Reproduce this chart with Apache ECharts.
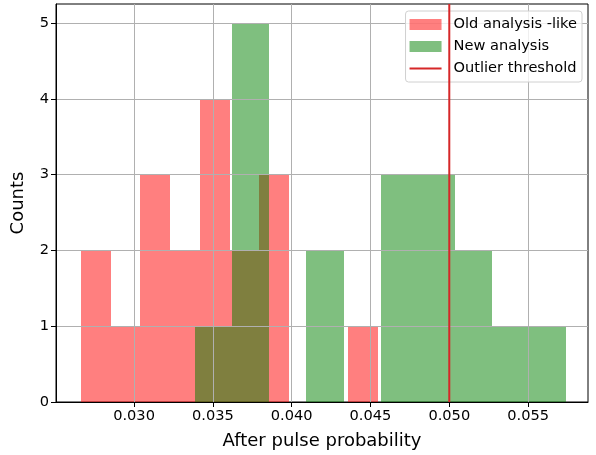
<!DOCTYPE html>
<html>
<head>
<meta charset="utf-8">
<script src="https://cdn.jsdelivr.net/npm/echarts@6/dist/echarts.min.js"></script>
<style>
  html, body { margin: 0; padding: 0; background: #fff; }
  #chart { width: 596px; height: 455px; }
</style>
</head>
<body>
<div id="chart"></div>
<script>
// bin edges and counts
const oldEdges = [0.02664, 0.02852, 0.03041, 0.03229, 0.03418, 0.03606,
                  0.03795, 0.03983, 0.04172, 0.04360, 0.04548];
const oldCounts = [2, 1, 3, 2, 4, 2, 3, 0, 0, 1];

const newEdges = [0.03387, 0.03623, 0.03858, 0.04093, 0.04329, 0.04564,
                  0.04800, 0.05035, 0.05270, 0.05506, 0.05741];
const newCounts = [1, 5, 0, 2, 0, 3, 3, 2, 1, 1];

const threshold = 0.05;
const xTicks = [0.030, 0.035, 0.040, 0.045, 0.050, 0.055];
const yTicks = [0, 1, 2, 3, 4, 5];
const xMin = 0.02505, xMax = 0.0588;
const yMax = 5.25;

const FONT = "DejaVu Sans";
const TICK_SIZE = 14.6;

function toBins(edges, counts) {
  return counts.map((c, i) => [edges[i], edges[i + 1], c]);
}

// one rectangle per bin, snapped to whole pixels so neighbours join cleanly
function histItem(params, api) {
  const lo = api.coord([api.value(0), 0]);
  const hi = api.coord([api.value(1), api.value(2)]);
  const x0 = Math.round(lo[0]), x1 = Math.round(hi[0]);
  const y0 = Math.round(lo[1]), y1 = Math.round(hi[1]);
  return {
    type: "rect",
    shape: { x: x0, y: y1, width: x1 - x0, height: y0 - y1 },
    style: { fill: api.visual("color") }
  };
}

const chart = echarts.init(document.getElementById("chart"));

chart.setOption({
  animation: false,
  textStyle: { fontFamily: FONT },
  grid: {
    left: 56, right: 8, top: 4, bottom: 53,
    show: true, borderColor: "#000", borderWidth: 1, backgroundColor: "transparent"
  },
  legend: {
    orient: "vertical",
    right: 14,
    top: 11,
    padding: [6, 5, 6, 4],
    itemGap: 7,
    itemWidth: 32,
    itemHeight: 11,
    symbolKeepAspect: true,
    backgroundColor: "rgba(255,255,255,0.8)",
    borderColor: "#d0d0d0",
    borderWidth: 1,
    borderRadius: 3,
    textStyle: { fontFamily: FONT, fontSize: TICK_SIZE, color: "#000", padding: [0, 0, 0, 7] },
    data: [
      { name: "Old analysis -like", icon: "rect" },
      { name: "New analysis", icon: "rect" },
      { name: "Outlier threshold", icon: "path://M0,0 L32,0 L32,2 L0,2 Z" }
    ]
  },
  xAxis: {
    type: "value",
    min: xMin,
    max: xMax,
    z: 3,
    name: "After pulse probability",
    nameLocation: "middle",
    nameGap: 30,
    nameTextStyle: { fontFamily: FONT, fontSize: 18, color: "#000" },
    axisLine: { show: true, onZero: false, lineStyle: { color: "#000", width: 1 } },
    axisTick: { show: true, length: 5, customValues: xTicks, lineStyle: { color: "#000" } },
    axisLabel: {
      customValues: xTicks,
      formatter: v => v.toFixed(3),
      fontFamily: FONT, fontSize: TICK_SIZE, color: "#000", margin: 7
    },
    splitLine: { show: true, lineStyle: { color: "#b0b0b0", width: 1 } }
  },
  yAxis: {
    type: "value",
    min: 0,
    max: yMax,
    z: 3,
    name: "Counts",
    nameLocation: "middle",
    nameGap: 29,
    nameTextStyle: { fontFamily: FONT, fontSize: 18, color: "#000" },
    axisLine: { show: true, lineStyle: { color: "#000", width: 1 } },
    axisTick: { show: true, length: 5, customValues: yTicks, lineStyle: { color: "#000" } },
    axisLabel: { customValues: yTicks, fontFamily: FONT, fontSize: TICK_SIZE, color: "#000", margin: 7 },
    splitLine: { show: true, lineStyle: { color: "#b0b0b0", width: 1 } }
  },
  series: [
    {
      name: "Old analysis -like",
      type: "custom",
      renderItem: histItem,
      encode: { x: [0, 1], y: 2 },
      itemStyle: { color: "rgba(255,0,0,0.5)" },
      data: toBins(oldEdges, oldCounts),
      z: 1
    },
    {
      name: "New analysis",
      type: "custom",
      renderItem: histItem,
      encode: { x: [0, 1], y: 2 },
      itemStyle: { color: "rgba(0,128,0,0.5)" },
      data: toBins(newEdges, newCounts),
      z: 2
    },
    {
      name: "Outlier threshold",
      type: "line",
      symbol: "none",
      z: 5,
      lineStyle: { color: "#d62728", width: 2 },
      itemStyle: { color: "#d62728" },
      data: [[threshold, 0], [threshold, yMax]]
    }
  ]
});
</script>
</body>
</html>
